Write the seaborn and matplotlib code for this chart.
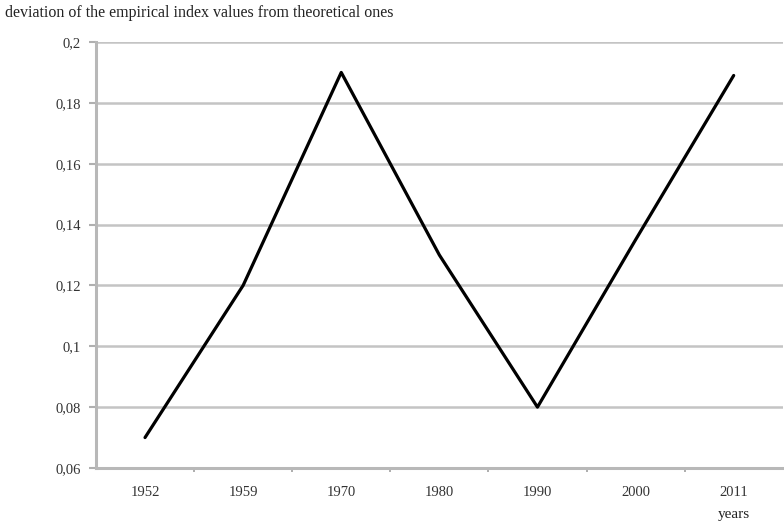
import matplotlib
matplotlib.use("Agg")
import matplotlib.pyplot as plt
import seaborn as sns
import pandas as pd

years = ["1952", "1959", "1970", "1980", "1990", "2000", "2011"]
deviation = [0.07, 0.12, 0.19, 0.13, 0.08, 0.135, 0.189]
y_ticks = [0.06, 0.08, 0.10, 0.12, 0.14, 0.16, 0.18, 0.20]
y_labels = ["0,06", "0,08", "0,1", "0,12", "0,14", "0,16", "0,18", "0,2"]

df = pd.DataFrame({"year": years, "deviation": deviation})

sns.set_style("white")
plt.rcParams["font.family"] = ["Liberation Serif", "DejaVu Serif"]

fig = plt.figure(figsize=(7.84, 5.25), dpi=100)
ax = fig.add_axes([0.1224, 0.1086, 0.876, 0.8114])

sns.lineplot(data=df, x="year", y="deviation", color="black", linewidth=2.3,
             sort=False, ax=ax)

ax.set_ylim(0.06, 0.20)
ax.set_xlim(-0.5, len(years) - 0.5)
ax.set_yticks(y_ticks)
ax.set_yticklabels(y_labels, fontsize=10.5, color="#333333")
ax.set_xticks(range(len(years)))
ax.set_xticklabels(years, fontsize=10.5, color="#333333")
ax.set_xticks([i + 0.5 for i in range(len(years) - 1)], minor=True)
ax.tick_params(axis="x", which="major", bottom=True, length=0, pad=13)
ax.tick_params(axis="x", which="minor", bottom=True, length=3, width=1.2,
               color="#a0a0a0", direction="out")
ax.tick_params(axis="y", which="major", left=True, length=5, width=1.5,
               color="#b0b0b0", direction="out", pad=6)

for y in y_ticks[1:]:
    ax.axhline(y, color="#c4c4c4", linewidth=1.8, zorder=0)

for side in ["top", "right"]:
    ax.spines[side].set_visible(False)
for side in ["left", "bottom"]:
    ax.spines[side].set_color("#b8b8b8")
    ax.spines[side].set_linewidth(2.2)

ax.set_xlabel("")
ax.set_ylabel("")
fig.text(0.007, 0.975, "deviation of the empirical index values from theoretical ones",
         fontsize=11.5, ha="left", va="center", color="#222222")
ax.text(len(years) - 1, -0.095, "years", transform=ax.get_xaxis_transform(),
        fontsize=11, ha="center", va="top", color="#222222")

fig.savefig("out.png", dpi=100)
